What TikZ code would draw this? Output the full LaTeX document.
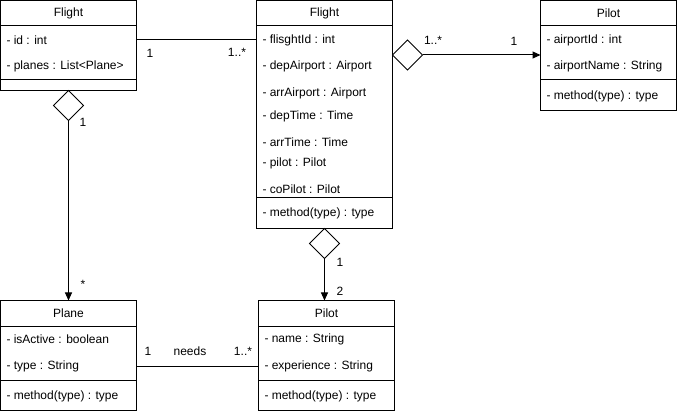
\documentclass[tikz,border=0pt]{standalone}
\usepackage{fontspec}
\setmainfont{Liberation Sans}
\usetikzlibrary{arrows.meta,shapes.geometric}

\begin{document}
\begin{tikzpicture}[x=1pt,y=-1pt,line width=1pt,font=\fontsize{12}{14}\selectfont,
  classbox/.style={draw,anchor=north west,minimum width=136,inner sep=0pt,outer sep=0pt},
  attr/.style={anchor=west,inner sep=0pt},
  aggr/.style={draw,diamond,fill=white,minimum width=30,minimum height=30,inner sep=0pt,outer sep=0pt},
  assoc/.style={-{Triangle[length=8pt,width=7pt]}}]
\useasboundingbox (0,0) rectangle (677,411);

% Flight (left)
\node[classbox,minimum height=90] (flightL) at (0.5,0.5) {};
\draw (0.5,26) -- (136.5,26);
\draw (0.5,80) -- (136.5,80);
\node (flightLt) at (68.5,13) {Flight};
\node[attr] (idA) at (6,40) {- id : int};
\node[attr] (planesA) at (6,66) {- planes : List<Plane>};

% Flight (middle)
\node[classbox,minimum height=228] (flight) at (256.5,0.5) {};
\draw (256.5,26) -- (392.5,26);
\draw (256.5,198) -- (392.5,198);
\node (flightt) at (324.5,13) {Flight};
\node[attr] (fid) at (262,40) {- flisghtId : int};
\node[attr] (fdep) at (262,66) {- depAirport : Airport};
\node[attr] (farr) at (262,93) {- arrAirport : Airport};
\node[attr] (fdept) at (262,116) {- depTime : Time};
\node[attr] (farrt) at (262,142) {- arrTime : Time};
\node[attr] (fpilot) at (262,163) {- pilot : Pilot};
\node[attr] (fcopilot) at (262,189) {- coPilot : Pilot};
\node[attr] (fmeth) at (262,213) {- method(type) : type};

% Pilot (right)
\node[classbox,minimum height=110] (pilotA) at (540.5,0.5) {};
\draw (540.5,26) -- (676.5,26);
\draw (540.5,80) -- (676.5,80);
\node (pilotAt) at (608.5,13) {Pilot};
\node[attr] (aid) at (546,40) {- airportId : int};
\node[attr] (aname) at (546,66) {- airportName : String};
\node[attr] (ameth) at (546,96) {- method(type) : type};

% Plane
\node[classbox,minimum height=110] (plane) at (0.5,300.5) {};
\draw (0.5,327) -- (136.5,327);
\draw (0.5,380) -- (136.5,380);
\node (planet) at (68.5,313) {Plane};
\node[attr] (pact) at (6,339) {- isActive : boolean};
\node[attr] (ptype) at (6,366) {- type : String};
\node[attr] (pmeth) at (6,396) {- method(type) : type};

% Pilot (bottom)
\node[classbox,minimum height=110] (pilotB) at (258.5,300.5) {};
\draw (258.5,327) -- (394.5,327);
\draw (258.5,380) -- (394.5,380);
\node (pilotBt) at (326.5,313) {Pilot};
\node[attr] (pname) at (264,339) {- name : String};
\node[attr] (pexp) at (264,366) {- experience : String};
\node[attr] (pbmeth) at (264,396) {- method(type) : type};

% Aggregations
\node[aggr,anchor=north] (dA) at (flightL.south) {};
\node[aggr,anchor=west] (dB) at (392.5,55) {};
\node[aggr,anchor=north] (dC) at (flight.south) {};

% Connectors
\draw (flightL.east |- idA) -- (flight.west |- idA);
\draw[assoc] (dB.east) -- (pilotA.west |- dB.east);
\draw[assoc] (dA.south) -- (plane.north);
\draw[assoc] (dC.south) -- (dC.south |- pilotB.north);
\draw (plane.east |- ptype) -- (pilotB.west |- ptype);

% Multiplicities
\node (m1) at (150,53) {1};
\node (m2) at (237,52) {1..*};
\node (m3) at (433,40) {1..*};
\node (m4) at (514,41) {1};
\node (m5) at (83,122) {1};
\node (m6) at (83,284) {*};
\node (m7) at (340,262) {1};
\node (m8) at (340,291) {2};
\node (m9) at (148,351) {1};
\node (needs) at (190,351) {needs};
\node (m10) at (243,351) {1..*};
\end{tikzpicture}
\end{document}
